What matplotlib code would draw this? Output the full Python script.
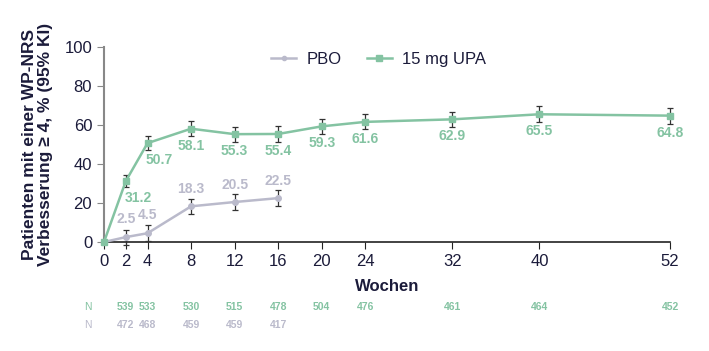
import matplotlib.pyplot as plt
from matplotlib.lines import Line2D

plt.rcParams['font.family'] = ['Liberation Sans', 'DejaVu Sans']

# Daten
weeks_upa = [0, 2, 4, 8, 12, 16, 20, 24, 32, 40, 52]
upa = [0, 31.2, 50.7, 58.1, 55.3, 55.4, 59.3, 61.6, 62.9, 65.5, 64.8]
upa_err = [0, 3.0, 3.6, 3.8, 3.9, 4.0, 3.9, 3.9, 4.0, 4.1, 4.1]

weeks_pbo = [0, 2, 4, 8, 12, 16]
pbo = [0, 2.5, 4.5, 18.3, 20.5, 22.5]
pbo_err = [0, 3.8, 4.0, 3.8, 3.9, 4.0]

n_weeks_upa = [2, 4, 8, 12, 16, 20, 24, 32, 40, 52]
n_upa = [539, 533, 530, 515, 478, 504, 476, 461, 464, 452]
n_weeks_pbo = [2, 4, 8, 12, 16]
n_pbo = [472, 468, 459, 459, 417]

x_ticks = [0, 2, 4, 8, 12, 16, 20, 24, 32, 40, 52]

green = '#84c3a2'
grey = '#babacb'
navy = '#1b1b3a'

fig = plt.figure(figsize=(7.09, 3.51), dpi=100)
ax = fig.add_axes([104 / 709, 1 - 242 / 351, 566 / 709, 195 / 351])

ax.errorbar(weeks_pbo, pbo, yerr=pbo_err, color=grey, ecolor='#333333', elinewidth=0.9,
            capsize=2.5, capthick=0.9, marker='o', markersize=4, linewidth=1.8,
            clip_on=False, zorder=3)
ax.errorbar(weeks_upa, upa, yerr=upa_err, color=green, ecolor='#333333', elinewidth=0.9,
            capsize=2.5, capthick=0.9, marker='s', markersize=5, linewidth=1.8,
            clip_on=False, zorder=4)

# Wertebeschriftungen
for w, v in zip(weeks_upa, upa):
    if w == 0:
        continue
    dx = 12 if w in (2, 4) else 0
    ax.annotate(f'{v:.1f}', (w, v), xytext=(dx, -17), textcoords='offset pixels',
                ha='center', va='center', fontsize=10, fontweight='bold', color=green)
for w, v in zip(weeks_pbo, pbo):
    if w == 0:
        continue
    ax.annotate(f'{v:.1f}', (w, v), xytext=(0, 17 if w > 4 else 18), textcoords='offset pixels',
                ha='center', va='center', fontsize=10, fontweight='bold', color=grey)

ax.set_xlim(0, 52)
ax.set_ylim(0, 100)
ax.set_xticks(x_ticks)
ax.set_yticks([0, 20, 40, 60, 80, 100])
ax.tick_params(axis='both', labelsize=12, labelcolor=navy, length=5)
ax.tick_params(axis='y', color='#888888')
ax.tick_params(axis='x', color='#222222', pad=4)
for s in ['top', 'right']:
    ax.spines[s].set_visible(False)
ax.spines['left'].set_color('#888888')
ax.spines['left'].set_linewidth(1.5)
ax.spines['bottom'].set_color('#222222')
ax.spines['bottom'].set_linewidth(1.2)

ax.set_xlabel('Wochen', fontsize=12, fontweight='bold', color=navy, labelpad=7)
ax.set_ylabel('Patienten mit einer WP-NRS\nVerbesserung \u2265 4, % (95% KI)', fontsize=12.5,
              fontweight='bold', color=navy, labelpad=8, linespacing=1.15)

handles = [Line2D([], [], color=grey, marker='o', markersize=3, linewidth=1.8),
           Line2D([], [], color=green, marker='s', markersize=4, linewidth=1.8)]
ax.legend(handles, ['PBO', '15 mg UPA'], loc='upper center', bbox_to_anchor=(0.485, 1.05),
          ncol=2, frameon=False, fontsize=12, handlelength=1.5, handletextpad=0.6,
          columnspacing=1.5, labelcolor=navy)

# N-Zeilen
trans = ax.get_xaxis_transform()
y_upa = -(307 - 242) / 195
y_pbo = -(325 - 242) / 195
ax.text(-1.5, y_upa, 'N', transform=trans, ha='center', va='center', fontsize=7.5,
        color=green)
ax.text(-1.5, y_pbo, 'N', transform=trans, ha='center', va='center', fontsize=7.5,
        color=grey)
for w, n in zip(n_weeks_upa, n_upa):
    ax.text(w, y_upa, str(n), transform=trans, ha='center', va='center', fontsize=7.5,
            fontweight='bold', color=green)
for w, n in zip(n_weeks_pbo, n_pbo):
    ax.text(w, y_pbo, str(n), transform=trans, ha='center', va='center', fontsize=7.5,
            fontweight='bold', color=grey)

fig.savefig('out.png', dpi=100)
